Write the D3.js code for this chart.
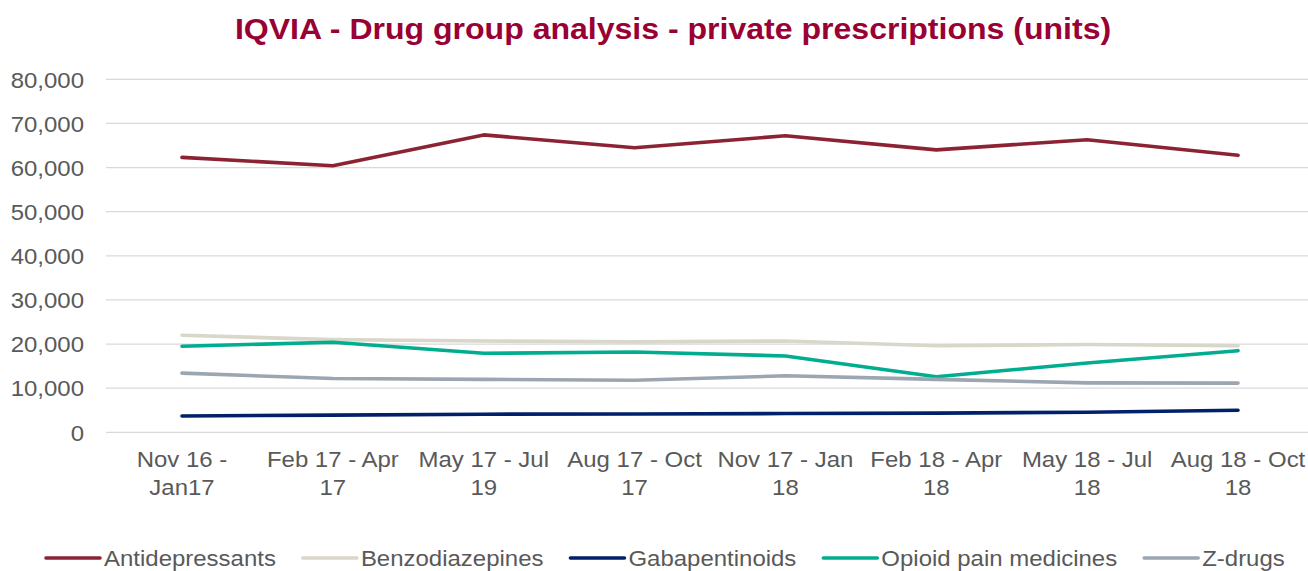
<!DOCTYPE html>
<html>
<head>
<meta charset="utf-8">
<script src="https://cdn.jsdelivr.net/npm/d3@7"></script>
<style>
  html, body { margin: 0; padding: 0; background: #fff; }
  svg { display: block; }
  text { font-family: "Liberation Sans", Arial, sans-serif; }
</style>
</head>
<body>
<svg id="chart" width="1308" height="571"></svg>
<script>
const categories = [
  ["Nov 16 -", "Jan17"],
  ["Feb 17 - Apr", "17"],
  ["May 17 - Jul", "19"],
  ["Aug 17 - Oct", "17"],
  ["Nov 17 - Jan", "18"],
  ["Feb 18 - Apr", "18"],
  ["May 18 - Jul", "18"],
  ["Aug 18 - Oct", "18"]
];
const seriesNames = ["Antidepressants", "Benzodiazepines", "Gabapentinoids", "Opioid pain medicines", "Z-drugs"];
const antidepressants = [62300, 60400, 67400, 64500, 67200, 64000, 66300, 62800];
const benzodiazepines = [22000, 21000, 20700, 20500, 20700, 19600, 19900, 19600];
const gabapentinoids  = [3700, 3900, 4100, 4150, 4250, 4350, 4550, 5000];
const opioids         = [19500, 20400, 17900, 18200, 17300, 12600, 15700, 18500];
const zdrugs          = [13400, 12200, 12000, 11800, 12800, 12000, 11200, 11150];
const yTicks = [0, 10000, 20000, 30000, 40000, 50000, 60000, 70000, 80000];
const colors = ["#8C2333", "#D9D6CA", "#00216A", "#00AD8E", "#9BA6B1"];
const title = "IQVIA - Drug group analysis - private prescriptions (units)";

const seriesValues = [antidepressants, benzodiazepines, gabapentinoids, opioids, zdrugs];

const svg = d3.select("#chart");
const W = 1308;
const SX = 1.09; // horizontal text stretch

const x = d3.scalePoint()
  .domain(d3.range(categories.length))
  .range([182, 1238]);
const y = d3.scaleLinear().domain([0, 80000]).range([432.3, 79.3]);

// Title
svg.append("text")
  .attr("transform", `translate(673,39) scale(1.105,1)`)
  .attr("text-anchor", "middle")
  .attr("font-size", 29).attr("font-weight", "bold")
  .attr("fill", "#990033")
  .text(title);

// Gridlines
svg.append("g")
  .selectAll("line")
  .data(yTicks)
  .join("line")
  .attr("x1", 106).attr("x2", W)
  .attr("y1", d => y(d)).attr("y2", d => y(d))
  .attr("stroke", "#D9D9D9").attr("stroke-width", 1.3);

// Y axis labels
const fmt = d3.format(",");
const yAxis = d3.axisLeft(y).tickValues(yTicks).tickFormat(fmt).tickSize(0).tickPadding(0);
const gy = svg.append("g").attr("transform", "translate(84,0)").call(yAxis);
gy.select(".domain").remove();
gy.selectAll("text")
  .attr("x", 0)
  .attr("transform", `scale(${SX},1)`)
  .attr("font-size", 22)
  .attr("font-family", "Liberation Sans, Arial, sans-serif")
  .attr("fill", "#595959")
  .attr("dy", "0.35em");

// X axis labels
const gx = svg.append("g");
categories.forEach((c, i) => {
  const t = gx.append("text")
    .attr("transform", `translate(${x(i)},467) scale(${SX},1)`)
    .attr("text-anchor", "middle")
    .attr("font-size", 22)
    .attr("fill", "#595959");
  c.forEach((line, j) => {
    t.append("tspan").attr("x", 0).attr("dy", j === 0 ? 0 : 28).text(line);
  });
});

// Lines
const line = d3.line().x((d, i) => x(i)).y(d => y(d));
seriesValues.forEach((vals, k) => {
  svg.append("path")
    .datum(vals)
    .attr("d", line)
    .attr("fill", "none")
    .attr("stroke", colors[k])
    .attr("stroke-width", 3.6)
    .attr("stroke-linecap", "round")
    .attr("stroke-linejoin", "round");
});

// Legend
const leg = svg.append("g");
let lx = 46;
const ly = 558;
seriesNames.forEach((name, k) => {
  leg.append("line")
    .attr("x1", lx).attr("x2", lx + 54)
    .attr("y1", ly).attr("y2", ly)
    .attr("stroke", colors[k]).attr("stroke-width", 3.6)
    .attr("stroke-linecap", "round");
  const t = leg.append("text")
    .attr("transform", `translate(${lx + 58},${ly}) scale(${SX},1)`)
    .attr("dy", "0.35em")
    .attr("font-size", 22)
    .attr("fill", "#595959")
    .text(name);
  const w = t.node().getComputedTextLength() * SX;
  lx = lx + 58 + w + 27;
});
</script>
</body>
</html>
